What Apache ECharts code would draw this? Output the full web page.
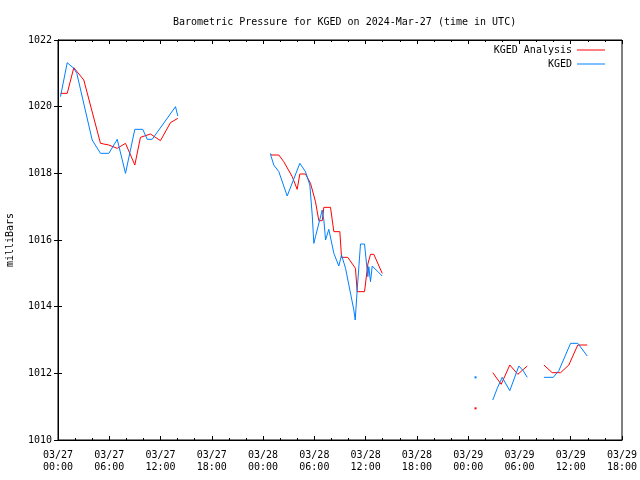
<!DOCTYPE html>
<html><head><meta charset="utf-8">
<script src="https://cdn.jsdelivr.net/npm/echarts@6/dist/echarts.min.js"></script>
<style>html,body{margin:0;padding:0;background:#fff}#c{width:640px;height:480px}</style>
</head><body><div id="c"></div>
<script>
// Hours since 03/27 00:00 UTC, pressure in millibars
const titleText = 'Barometric Pressure for KGED on 2024-Mar-27 (time in UTC)';
const yAxisTitle = 'milliBars';
const seriesNames = ['KGED Analysis', 'KGED'];
const xTickLabels = ['03/27\n00:00','03/27\n06:00','03/27\n12:00','03/27\n18:00',
  '03/28\n00:00','03/28\n06:00','03/28\n12:00','03/28\n18:00',
  '03/29\n00:00','03/29\n06:00','03/29\n12:00','03/29\n18:00'];

const analysisSeg1 = [[0.29,1020.40],[1.08,1020.40],[1.85,1021.17],[3.02,1020.80],[4.97,1018.90],[5.95,1018.85],[6.93,1018.75],[7.90,1018.90],[8.99,1018.25],[9.65,1019.08],[10.82,1019.18],[11.99,1018.98],[13.16,1019.52],[14.02,1019.65]];
const analysisSeg2 = [[24.87,1018.55],[25.84,1018.55],[26.42,1018.35],[27.41,1017.90],[27.99,1017.52],[28.30,1017.98],[28.96,1017.98],[29.55,1017.70],[30.13,1017.15],[30.52,1016.58],[30.92,1016.58],[31.11,1016.98],[31.89,1016.98],[32.28,1016.25],[32.98,1016.25],[33.18,1015.48],[33.91,1015.48],[34.81,1015.15],[35.01,1014.45],[35.87,1014.45],[36.26,1015.28],[36.57,1015.57],[36.96,1015.57],[37.94,1015.00]];
const analysisSeg3 = [[48.86,1010.95]];
const analysisSeg4 = [[50.88,1012.02],[51.86,1011.67],[52.87,1012.25],[53.81,1011.97],[54.91,1012.22]];
const analysisSeg5 = [[56.86,1012.25],[57.83,1012.02],[58.81,1012.02],[59.78,1012.25],[60.56,1012.70],[60.83,1012.85],[61.93,1012.85]];

const kgedSeg1 = [[0.29,1020.30],[1.08,1021.32],[1.85,1021.15],[2.20,1021.00],[4.00,1019.00],[4.97,1018.60],[5.95,1018.60],[6.93,1019.02],[7.90,1018.00],[8.99,1019.32],[9.92,1019.32],[10.44,1019.02],[11.02,1019.02],[13.75,1020.00],[14.02,1019.72]];
const kgedSeg2 = [[24.87,1018.60],[24.95,1018.50],[25.25,1018.25],[25.84,1018.05],[26.82,1017.32],[28.30,1018.30],[28.96,1018.05],[29.47,1017.65],[29.75,1016.75],[29.94,1015.90],[30.13,1016.10],[30.92,1016.90],[31.11,1016.60],[31.31,1016.00],[31.69,1016.32],[31.89,1016.32],[32.28,1015.60],[32.86,1015.22],[33.18,1015.55],[33.65,1015.15],[34.62,1013.90],[34.78,1013.60],[35.01,1014.50],[35.40,1015.88],[35.87,1015.88],[36.26,1014.90],[36.37,1015.20],[36.57,1014.75],[36.77,1015.22],[36.96,1015.22],[37.94,1014.92]];
const kgedSeg3 = [[48.86,1011.88]];
const kgedSeg4 = [[50.88,1011.20],[51.40,1011.55],[51.98,1011.88],[52.87,1011.48],[53.93,1012.22],[54.44,1012.08],[54.91,1011.88]];
const kgedSeg5 = [[56.86,1011.88],[57.95,1011.88],[58.61,1012.08],[59.98,1012.90],[60.83,1012.90],[61.93,1012.52]];

function joinSegments(segs) {
  const out = [];
  segs.forEach((seg, i) => {
    if (i > 0) out.push([(segs[i-1][segs[i-1].length-1][0] + seg[0][0]) / 2, null]);
    if (seg.length === 1) out.push({ value: seg[0], symbol: 'rect', symbolSize: 2 });
    else seg.forEach(p => out.push(p));
  });
  return out;
}

const font = 'DejaVu Sans Mono';
const chart = echarts.init(document.getElementById('c'), null, { renderer: 'canvas' });
const tickStyle = { show: true, inside: true, length: 4, lineStyle: { color: '#000', width: 1 } };
const minorStyle = { show: true, splitNumber: 3, length: 2, lineStyle: { color: '#000', width: 1 } };
const lineAxis = { show: true, lineStyle: { color: '#000', width: 1 } };
const legendText = { fontFamily: font, fontSize: 10, color: '#000' };
chart.setOption({
  animation: false,
  backgroundColor: '#fff',
  title: { text: titleText, left: 168, top: 12,
    textStyle: { fontFamily: font, fontSize: 10, fontWeight: 'normal', color: '#000' } },
  legend: [
    { data: [seriesNames[0]], right: 30, top: 40, align: 'right', icon: 'rect', itemWidth: 28, itemHeight: 1,
      textStyle: legendText },
    { data: [seriesNames[1]], right: 30, top: 54, align: 'right', icon: 'rect', itemWidth: 28, itemHeight: 1,
      textStyle: legendText }
  ],
  grid: { left: 58, right: 18, top: 40, bottom: 40, containLabel: false, outerBoundsMode: 'none',
    show: true, borderColor: '#000', borderWidth: 1 },
  xAxis: [
    { type: 'value', min: 0, max: 66, interval: 6, position: 'bottom',
      axisLine: lineAxis, axisTick: tickStyle, minorTick: minorStyle, splitLine: { show: false },
      axisLabel: { fontFamily: font, fontSize: 10, color: '#000', lineHeight: 12, margin: 9,
        formatter: v => xTickLabels[Math.round(v / 6)] } },
    { type: 'value', min: 0, max: 66, interval: 6, position: 'top',
      axisLine: lineAxis, axisTick: tickStyle, minorTick: minorStyle, splitLine: { show: false }, axisLabel: { show: false } }
  ],
  yAxis: [
    { type: 'value', min: 1010, max: 1022, interval: 2, position: 'left',
      name: yAxisTitle, nameLocation: 'middle', nameGap: 43, nameRotate: 90,
      nameTextStyle: { fontFamily: font, fontSize: 10, color: '#000' },
      axisLine: lineAxis, axisTick: tickStyle, splitLine: { show: false },
      axisLabel: { fontFamily: font, fontSize: 10, color: '#000', margin: 6, formatter: v => String(v) } },
    { type: 'value', min: 1010, max: 1022, interval: 2, position: 'right',
      axisLine: lineAxis, axisTick: tickStyle, splitLine: { show: false }, axisLabel: { show: false } }
  ],
  series: [
    { name: seriesNames[0], type: 'line', xAxisIndex: 0, yAxisIndex: 0, symbol: 'none', showSymbol: true,
      connectNulls: false, color: '#ff0000', lineStyle: { width: 1, color: '#ff0000' }, itemStyle: { color: '#ff0000' },
      data: joinSegments([analysisSeg1, analysisSeg2, analysisSeg3, analysisSeg4, analysisSeg5]) },
    { name: seriesNames[1], type: 'line', xAxisIndex: 0, yAxisIndex: 0, symbol: 'none', showSymbol: true,
      connectNulls: false, color: '#0080ff', lineStyle: { width: 1, color: '#0080ff' }, itemStyle: { color: '#0080ff' },
      data: joinSegments([kgedSeg1, kgedSeg2, kgedSeg3, kgedSeg4, kgedSeg5]) }
  ]
});
</script></body></html>
